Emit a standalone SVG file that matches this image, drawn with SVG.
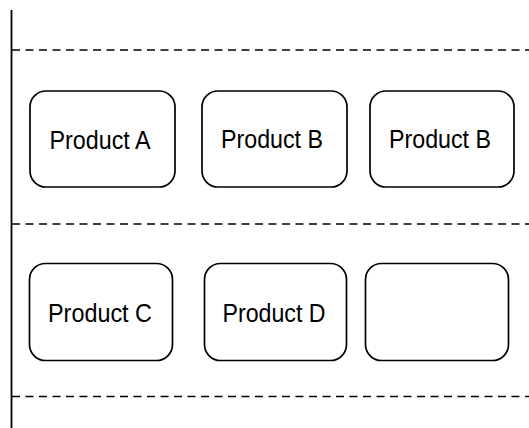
<svg xmlns="http://www.w3.org/2000/svg" width="529" height="428" viewBox="0 0 529 428">
<style>
.box{fill:#fff;stroke:#000;stroke-width:1.7}
.dash{stroke:#000;stroke-width:1.7;stroke-dasharray:8 5.5;fill:none}
.lbl{font-family:"Liberation Sans",Arial,sans-serif;font-size:25px;fill:#000;text-anchor:middle}
</style>
<rect width="529" height="428" fill="#fff"/>
<g id="lanes">
<line x1="11.5" y1="10" x2="11.5" y2="428" stroke="#000" stroke-width="1.8"/>
<line class="dash" x1="12" y1="50" x2="529" y2="50"/>
<line class="dash" x1="12" y1="224" x2="529" y2="224"/>
<line class="dash" x1="12" y1="396.5" x2="529" y2="396.5"/>
</g>
<g id="connectors"></g>
<g id="productA"><rect class="box" x="30" y="91" width="145" height="96" rx="16"/><text class="lbl" x="100" y="148.5" textLength="101" lengthAdjust="spacingAndGlyphs">Product A</text></g>
<g id="productB1"><rect class="box" x="202" y="91" width="145" height="96" rx="16"/><text class="lbl" x="272" y="147.5" textLength="102" lengthAdjust="spacingAndGlyphs">Product B</text></g>
<g id="productB2"><rect class="box" x="370" y="91" width="144" height="96" rx="16"/><text class="lbl" x="440" y="147.5" textLength="102" lengthAdjust="spacingAndGlyphs">Product B</text></g>
<g id="productC"><rect class="box" x="29.5" y="263.5" width="143" height="97" rx="16"/><text class="lbl" x="100" y="322" textLength="104" lengthAdjust="spacingAndGlyphs">Product C</text></g>
<g id="productD"><rect class="box" x="204.5" y="263.5" width="142" height="97" rx="16"/><text class="lbl" x="274" y="322" textLength="103" lengthAdjust="spacingAndGlyphs">Product D</text></g>
<g id="empty"><rect class="box" x="365.5" y="263.5" width="143" height="97" rx="16"/></g>
</svg>
